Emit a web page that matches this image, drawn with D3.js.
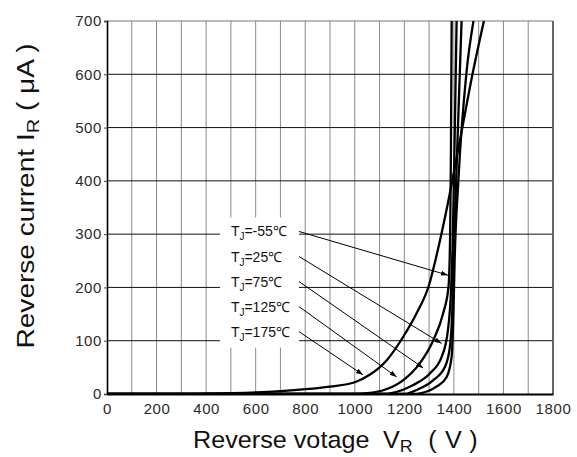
<!DOCTYPE html>
<html>
<head>
<meta charset="utf-8">
<script src="https://cdn.jsdelivr.net/npm/d3@7"></script>
<style>
  body { margin: 0; background: #fff; }
  text { font-family: "Liberation Sans", Arial, sans-serif; }
</style>
</head>
<body>
<div id="chart"></div>
<script>
// tick values
const voltageTicks = [0, 200, 400, 600, 800, 1000, 1200, 1400, 1600, 1800];
const currentTicks = [0, 100, 200, 300, 400, 500, 600, 700];

// curves: [voltage V, current uA]
const curve175 = [[0, 0], [300, 0], [400, 0.5], [500, 1.5], [600, 3], [700, 5.5], [800, 9], [900, 14], [1000, 22], [1060, 36], [1130, 64], [1195, 107], [1250, 152], [1300, 205], [1330, 260], [1370, 345], [1430, 490], [1475, 600], [1521, 700]];
const curve125 = [[0, 0], [1000, 0], [1060, 2], [1115, 7], [1196, 26], [1263, 58], [1317, 101], [1357, 152], [1378, 200], [1385, 300], [1388, 450], [1391, 700]];
const curve75 = [[0, 0], [1130, 0], [1142, 1], [1236, 17], [1304, 39], [1351, 70], [1376, 120], [1389, 200], [1396, 300], [1402, 450], [1411, 700]];
const curve25 = [[0, 0], [1200, 0], [1250, 7.5], [1317, 26], [1364, 51], [1384, 89], [1393, 150], [1399, 250], [1409, 400], [1431, 700]];
const curveM55 = [[0, 0], [1240, 0], [1263, 1], [1330, 14], [1371, 32], [1391, 70], [1398, 150], [1403, 250], [1418, 400], [1450, 600], [1479, 700]];

// labels and where their arrows point
const labelTemps = ["-55", "25", "75", "125", "175"];
const labelRows = [305, 258, 211, 164, 117];
const arrowTips = [[1376, 223], [1350, 95], [1276, 49], [1169, 32], [1033, 36]];

const W = 577, H = 457;
const margin = { top: 21, right: 24, bottom: 63, left: 107 };
const width = W - margin.left - margin.right;
const height = H - margin.top - margin.bottom;

const svg = d3.select("#chart").append("svg")
  .attr("width", W).attr("height", H);

const g = svg.append("g")
  .attr("transform", `translate(${margin.left},${margin.top})`);

const x = d3.scaleLinear().domain([0, 1800]).range([0, width]);
const y = d3.scaleLinear().domain([0, 700]).range([height, 0]);

svg.append("defs").append("clipPath").attr("id", "plot")
  .append("rect").attr("width", width).attr("height", height);

const defs = svg.select("defs");
defs.append("marker")
  .attr("id", "head")
  .attr("viewBox", "0 0 10 10")
  .attr("refX", 10).attr("refY", 5)
  .attr("markerWidth", 7).attr("markerHeight", 7)
  .attr("markerUnits", "userSpaceOnUse")
  .attr("orient", "auto")
  .append("path")
  .attr("d", "M0,1.5 L10,5 L0,8.5 Z")
  .attr("fill", "#000");

// grid
const vGrid = d3.range(100, 1800, 100);
g.selectAll(".vgrid").data(vGrid).enter().append("line")
  .attr("x1", d => x(d)).attr("x2", d => x(d))
  .attr("y1", 0).attr("y2", height)
  .attr("stroke", "#8a8a8a").attr("stroke-width", 1);

g.selectAll(".hgrid").data(currentTicks.filter(d => d > 0 && d < 700)).enter().append("line")
  .attr("x1", 0).attr("x2", width)
  .attr("y1", d => y(d)).attr("y2", d => y(d))
  .attr("stroke", "#111").attr("stroke-width", 1);

// frame
g.append("line").attr("x1", 0).attr("x2", width).attr("y1", 0).attr("y2", 0)
  .attr("stroke", "#777").attr("stroke-width", 1.2);
g.append("line").attr("x1", width).attr("x2", width).attr("y1", 0).attr("y2", height)
  .attr("stroke", "#555").attr("stroke-width", 1.8);

// white box behind labels
const labelX = x(500);
const boxTop = y(labelRows[0]) - 14;
const boxBottom = y(labelRows[4]) + 16;
g.append("rect")
  .attr("x", labelX - 11).attr("y", boxTop)
  .attr("width", x(775) - labelX + 11).attr("height", boxBottom - boxTop)
  .attr("fill", "#fff");

// axes
const xAxis = g.append("g")
  .attr("transform", `translate(0,${height})`)
  .call(d3.axisBottom(x).tickValues(voltageTicks).tickFormat(d3.format("d")).tickSize(0).tickPadding(9));
xAxis.select(".domain").attr("stroke", "#000").attr("stroke-width", 2.2);

const yAxis = g.append("g")
  .call(d3.axisLeft(y).tickValues(currentTicks).tickFormat(d3.format("d")).tickSize(3).tickPadding(2));
yAxis.select(".domain").attr("stroke", "#000").attr("stroke-width", 1.6);

[xAxis, yAxis].forEach(a => {
  a.selectAll("text")
    .attr("font-family", '"Liberation Sans", Arial, sans-serif')
    .attr("font-size", 15).attr("letter-spacing", 0.6).attr("fill", "#2a2a2a");
  a.selectAll(".tick line").attr("stroke", "#444");
});

// curves
const line = d3.line()
  .x(d => x(d[0]))
  .y(d => y(d[1]))
  .curve(d3.curveMonotoneX);

const curves = [curve175, curve125, curve75, curve25, curveM55];
g.append("g").attr("clip-path", "url(#plot)")
  .selectAll("path").data(curves).enter().append("path")
  .attr("d", line)
  .attr("fill", "none")
  .attr("stroke", "#000")
  .attr("stroke-width", 2.3)
  .attr("stroke-linejoin", "round");

// arrows
g.selectAll(".arrow").data(arrowTips).enter().append("line")
  .attr("x1", x(775))
  .attr("y1", (d, i) => y(labelRows[i]))
  .attr("x2", d => x(d[0]))
  .attr("y2", d => y(d[1]))
  .attr("stroke", "#000").attr("stroke-width", 1)
  .attr("marker-end", "url(#head)");

// labels
const lab = g.selectAll(".lab").data(labelTemps).enter().append("text")
  .attr("x", labelX)
  .attr("y", (d, i) => y(labelRows[i]) + 5)
  .attr("font-size", 14).attr("fill", "#111");
lab.append("tspan").text("T");
lab.append("tspan").attr("dy", 4).attr("font-size", 10).text("J");
lab.append("tspan").attr("dy", -4).text(d => `=${d}\u2103`);

// axis titles
const xt = svg.append("text")
  .attr("transform", "translate(193,448) scale(1.05,1)")
  .attr("font-size", 24).attr("fill", "#111");
xt.append("tspan").text("Reverse votage");
xt.append("tspan").attr("x", 181).text("V");
xt.append("tspan").attr("dy", 4).attr("font-size", 17).text("R");
xt.append("tspan").attr("dy", -4).attr("x", 224).text("(");
xt.append("tspan").attr("x", 240).text("V");
xt.append("tspan").attr("x", 263).text(")");

const yt = svg.append("text")
  .attr("transform", `translate(34,${margin.top + 175}) rotate(-90) scale(1.17,1)`)
  .attr("text-anchor", "middle")
  .attr("font-size", 24).attr("fill", "#111");
yt.append("tspan").text("Reverse current  I");
yt.append("tspan").attr("dy", 5).attr("font-size", 17).text("R");
yt.append("tspan").attr("dy", -5).text(" ( \u03bcA )");
</script>
</body>
</html>
